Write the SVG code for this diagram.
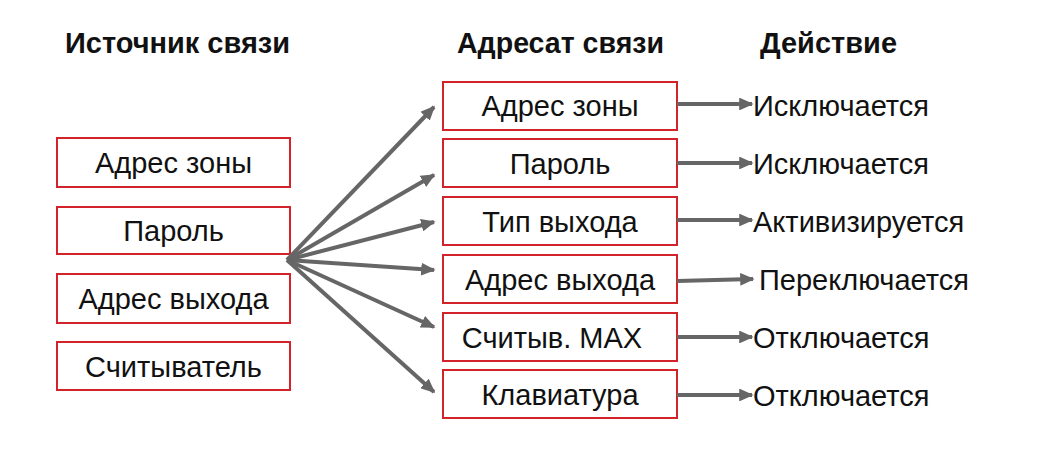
<svg xmlns="http://www.w3.org/2000/svg" width="1053" height="471" viewBox="0 0 1053 471">
<style>
.box{fill:#fff;stroke:#d2232a;stroke-width:2}
.t{font-family:"Liberation Sans",Arial,sans-serif;font-size:29px;fill:#111;text-anchor:middle}
.a{font-family:"Liberation Sans",Arial,sans-serif;font-size:29px;fill:#111}
.h{font-family:"Liberation Sans",Arial,sans-serif;font-size:30px;font-weight:bold;fill:#111}
.c{stroke:#666;stroke-width:4;fill:none;marker-end:url(#ah)}
</style>
<defs>
<marker id="ah" markerWidth="3.6" markerHeight="3.2" refX="3.2" refY="1.6" orient="auto" markerUnits="strokeWidth">
<path d="M0,0 L3.6,1.6 L0,3.2 z" fill="#666"/>
</marker>
</defs>
<rect width="1053" height="471" fill="#fff"/>
<text class="h" x="65" y="53" textLength="225" lengthAdjust="spacingAndGlyphs">Источник связи</text>
<text class="h" x="457" y="53" textLength="207" lengthAdjust="spacingAndGlyphs">Адресат связи</text>
<text class="h" x="760" y="53" textLength="137" lengthAdjust="spacingAndGlyphs">Действие</text>
<g id="src1"><rect class="box" x="57" y="138" width="233" height="49"/><text class="t" x="173.5" y="173">Адрес зоны</text></g>
<g id="src2"><rect class="box" x="57" y="207" width="233" height="47"/><text class="t" x="173.5" y="241">Пароль</text></g>
<g id="src3"><rect class="box" x="57" y="274" width="233" height="49"/><text class="t" x="173.5" y="309">Адрес выхода</text></g>
<g id="src4"><rect class="box" x="57" y="342" width="233" height="48"/><text class="t" x="173.5" y="377">Считыватель</text></g>
<g id="dst1"><rect class="box" x="443" y="82" width="234" height="48"/><text class="t" x="560" y="116">Адрес зоны</text></g>
<g id="dst2"><rect class="box" x="443" y="139" width="234" height="48"/><text class="t" x="560" y="174">Пароль</text></g>
<g id="dst3"><rect class="box" x="443" y="197" width="234" height="48"/><text class="t" x="560" y="232">Тип выхода</text></g>
<g id="dst4"><rect class="box" x="443" y="255" width="234" height="48"/><text class="t" x="560" y="290">Адрес выхода</text></g>
<g id="dst5"><rect class="box" x="443" y="313" width="234" height="48"/><text class="t" x="552" y="348">Считыв. MAX</text></g>
<g id="dst6"><rect class="box" x="443" y="370" width="234" height="48"/><text class="t" x="560" y="405">Клавиатура</text></g>
<g id="act">
<text class="a" x="753" y="116">Исключается</text>
<text class="a" x="753" y="174">Исключается</text>
<text class="a" x="753" y="232">Активизируется</text>
<text class="a" x="759" y="290">Переключается</text>
<text class="a" x="753" y="348">Отключается</text>
<text class="a" x="753" y="406">Отключается</text>
</g>
<g id="connectors">
<line class="c" x1="287" y1="260" x2="434" y2="107"/>
<line class="c" x1="287" y1="260" x2="434" y2="175"/>
<line class="c" x1="287" y1="260" x2="434" y2="222"/>
<line class="c" x1="287" y1="260" x2="434" y2="270"/>
<line class="c" x1="287" y1="260" x2="434" y2="327"/>
<line class="c" x1="287" y1="260" x2="434" y2="392"/>
<line class="c" x1="677" y1="104" x2="752" y2="104"/>
<line class="c" x1="677" y1="163" x2="752" y2="163"/>
<line class="c" x1="677" y1="220" x2="752" y2="220"/>
<line class="c" x1="677" y1="281" x2="753" y2="279"/>
<line class="c" x1="677" y1="337" x2="752" y2="337"/>
<line class="c" x1="677" y1="395" x2="752" y2="395"/>
</g>
</svg>
